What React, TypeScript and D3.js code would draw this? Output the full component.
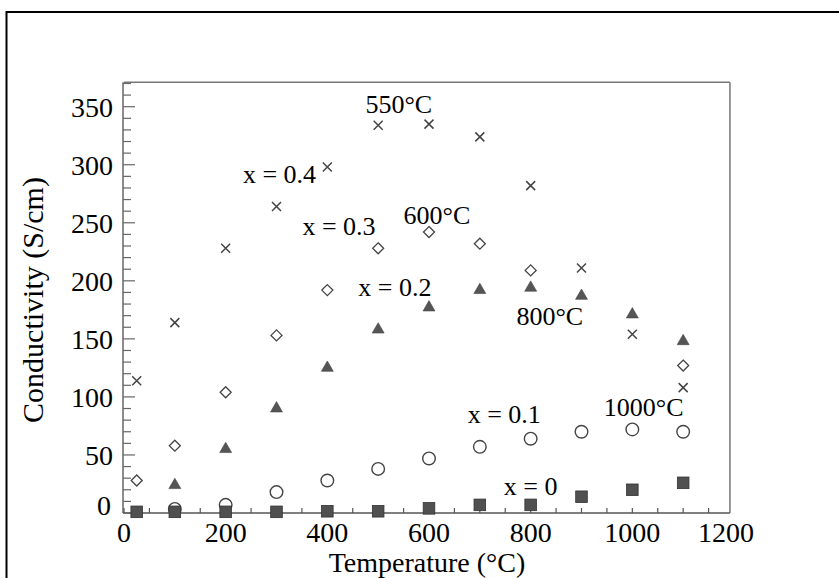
import React from "react";
import * as d3 from "d3";

const temps = [25, 100, 200, 300, 400, 500, 600, 700, 800, 900, 1000, 1100];
const x04 = [114, 164, 228, 264, 298, 334, 335, 324, 282, 211, 154, 108];
const x03 = [28, 58, 104, 153, 192, 228, 242, 232, 209, null, null, 127];
const x02 = [null, 24, 55, 90, 125, 158, 177, 192, 194, 187, 171, 148];
const x01 = [null, 3.5, 7, 18, 28, 38, 47, 57, 64, 70, 72, 70];
const x00 = [1, 1, 1, 1, 1.5, 1.5, 4, 7, 7, 14, 20, 26];

const xTicks = [0, 200, 400, 600, 800, 1000, 1200];
const yTicks = [0, 50, 100, 150, 200, 250, 300, 350];

const annotations: { text: string; t: number; v: number }[] = [
  { text: "550°C", t: 475, v: 344.5 },
  { text: "x = 0.4", t: 234, v: 284 },
  { text: "x = 0.3", t: 351, v: 239.5 },
  { text: "600°C", t: 550, v: 249 },
  { text: "x = 0.2", t: 461, v: 187 },
  { text: "800°C", t: 772, v: 162 },
  { text: "x = 0.1", t: 676, v: 77.5 },
  { text: "1000°C", t: 944, v: 83.5 },
  { text: "x = 0", t: 747, v: 15.5 },
];

const W = 839;
const H = 578;
const FONT = "'Liberation Serif', 'Times New Roman', serif";

export default function App() {
  const x = d3.scaleLinear().domain([0, 1200]).range([124, 734]);
  const y = d3.scaleLinear().domain([0, 350]).range([513, 106.7]);
  const yTop = 371;
  const frameRight = x(1192);

  const pts = (vals: (number | null)[]) =>
    temps
      .map((t, i) => ({ t, v: vals[i] }))
      .filter((d) => d.v !== null) as { t: number; v: number }[];

  const yMinor = d3.range(0, yTop, 10);
  const xMinor = d3.range(0, 1200, 50);

  const tri = d3.symbol().type(d3.symbolTriangle).size(62)()!;
  const diamond = (cx: number, cy: number) => {
    const r = 5.5;
    return `M${cx},${cy - r}L${cx + r},${cy}L${cx},${cy + r}L${cx - r},${cy}Z`;
  };

  return (
    <svg
      width={W}
      height={H}
      style={{ position: "absolute", left: 0, top: 0, background: "#fff" }}
      fontFamily={FONT}
    >
      <rect x={0} y={0} width={W} height={H} fill="#fff" />
      {/* outer border */}
      <rect x={6.5} y={12} width={W + 20} height={H + 20} fill="none" stroke="#000" strokeWidth={2} />

      {/* frame */}
      <line x1={x(0)} x2={frameRight} y1={y(yTop)} y2={y(yTop)} stroke="#777" strokeWidth={1.5} />
      <line x1={frameRight} x2={frameRight} y1={y(yTop)} y2={y(0)} stroke="#777" strokeWidth={1.5} />
      <line x1={x(0) - 1} x2={x(0) - 1} y1={y(yTop)} y2={y(0)} stroke="#666" strokeWidth={1.5} />
      <line x1={x(0) - 1} x2={frameRight} y1={y(0)} y2={y(0)} stroke="#555" strokeWidth={1.6} />

      {/* y ticks */}
      {yMinor.map((v) => (
        <line
          key={"ym" + v}
          x1={x(0) - 1}
          x2={x(0) - 1 + (v % 50 === 0 ? 12 : 8)}
          y1={y(v)}
          y2={y(v)}
          stroke="#666"
          strokeWidth={1.2}
        />
      ))}
      {/* x ticks */}
      {xMinor.map((t) => (
        <line key={"xm" + t} x1={x(t)} x2={x(t)} y1={y(0)} y2={y(0) - 5} stroke="#555" strokeWidth={1.2} />
      ))}

      {/* y tick labels */}
      {yTicks.map((v) => (
        <text
          key={"yl" + v}
          x={v === 0 ? 111 : 113}
          y={y(v) + (v === 0 ? -8 : 1)}
          textAnchor="end"
          dominantBaseline="central"
          fontSize={28}
          fill="#000"
        >
          {v}
        </text>
      ))}
      {/* x tick labels */}
      {xTicks.map((t) => (
        <text
          key={"xl" + t}
          x={t === 1200 ? x(t) - 8 : x(t)}
          y={542}
          textAnchor="middle"
          fontSize={28}
          fill="#000"
        >
          {t}
        </text>
      ))}

      {/* axis titles */}
      <text x={x(600) - 2} y={572} textAnchor="middle" fontSize={28} fill="#000">
        Temperature (°C)
      </text>
      <text transform="translate(43,300) rotate(-90)" textAnchor="middle" fontSize={30} fill="#000">
        Conductivity (S/cm)
      </text>

      {/* x = 0.1 circles */}
      {pts(x01).map((d) => (
        <circle key={"c" + d.t} cx={x(d.t)} cy={y(d.v)} r={6.3} fill="none" stroke="#444" strokeWidth={1.4} />
      ))}
      {/* x = 0 squares */}
      {pts(x00).map((d) => (
        <rect
          key={"s" + d.t}
          x={x(d.t) - 5.8}
          y={y(d.v) - 5.8}
          width={11.6}
          height={11.6}
          fill="#505050"
          stroke="#333"
          strokeWidth={0.8}
        />
      ))}
      {/* x = 0.2 triangles */}
      {pts(x02).map((d) => (
        <path key={"t" + d.t} d={tri} transform={`translate(${x(d.t)},${y(d.v)})`} fill="#555" stroke="#444" strokeWidth={0.6} />
      ))}
      {/* x = 0.3 diamonds */}
      {pts(x03).map((d) => (
        <path key={"d" + d.t} d={diamond(x(d.t), y(d.v))} fill="none" stroke="#444" strokeWidth={1.3} />
      ))}
      {/* x = 0.4 crosses */}
      {pts(x04).map((d) => {
        const cx = x(d.t);
        const cy = y(d.v);
        const r = 4.5;
        return (
          <path
            key={"x" + d.t}
            d={`M${cx - r},${cy - r}L${cx + r},${cy + r}M${cx - r},${cy + r}L${cx + r},${cy - r}`}
            stroke="#444"
            strokeWidth={1.5}
            fill="none"
          />
        );
      })}

      {/* annotations */}
      {annotations.map((a) => (
        <text key={a.text} x={x(a.t)} y={y(a.v)} fontSize={26} fill="#000">
          {a.text}
        </text>
      ))}
    </svg>
  );
}
